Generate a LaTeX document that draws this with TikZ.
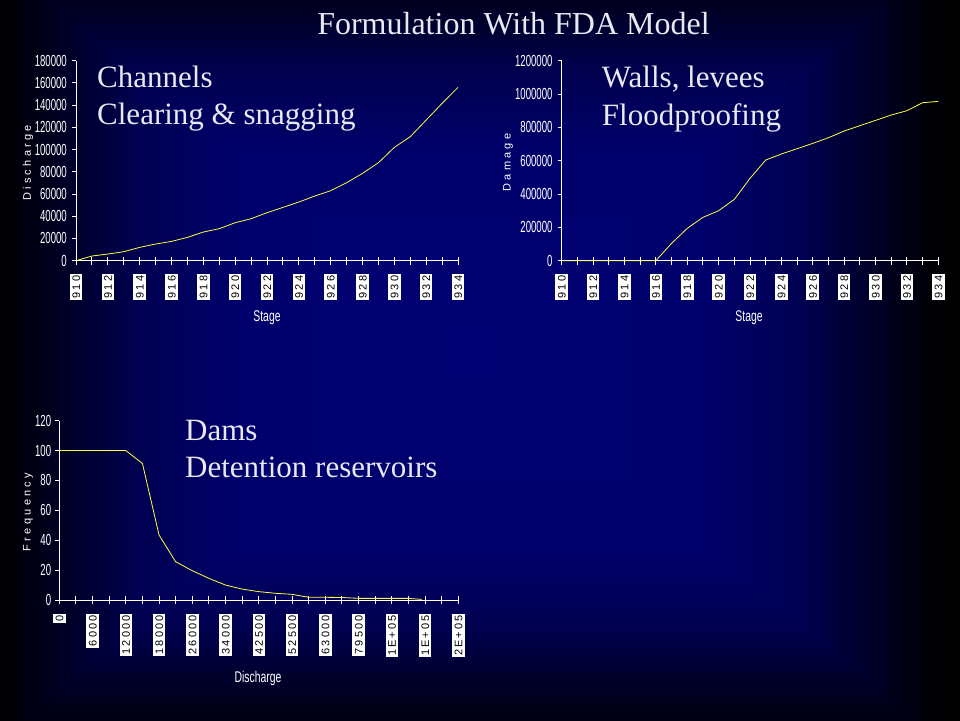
\documentclass[tikz,border=0pt]{standalone}
\usepackage{fontspec}
\setmainfont{Liberation Serif}
\newfontfamily\axfont{Liberation Sans}
\newfontfamily\spacedfont[LetterSpace=30]{Liberation Sans}
\newfontfamily\tickfont[LetterSpace=20]{Liberation Sans}
\definecolor{txtcol}{RGB}{232,232,240}
\definecolor{curvecol}{RGB}{255,255,60}
\newcommand{\mycond}[1]{\scalebox{0.6}[1]{#1}}
\newcommand{\mycondb}[1]{\scalebox{0.67}[1]{#1}}
\tikzset{
  axisline/.style={draw=white, line width=0.9pt},
  datacurve/.style={draw=curvecol, line width=0.8pt, line join=round},
  ylab/.style={font=\axfont\fontsize{16}{16}\selectfont, text=white, inner sep=0pt, anchor=east},
  xlab/.style={fill=white, text=black, rotate=90, anchor=east, font=\tickfont\fontsize{11}{11}\selectfont,
               inner xsep=1.5pt, inner ysep=2.3pt, text height=8pt, text depth=0pt},
  axtitle/.style={font=\axfont\fontsize{15.5}{15.5}\selectfont, text=white, inner sep=0pt},
  ytitle/.style={font=\spacedfont\fontsize{11}{11}\selectfont, text=white, inner sep=0pt, rotate=90},
  bigtext/.style={font=\fontsize{31}{31}\selectfont, text=txtcol, inner sep=0pt, anchor=base west},
}
\begin{document}
\begin{tikzpicture}[x=1pt,y=-1pt]
\useasboundingbox (0,0) rectangle (960,720);
\begin{scope}
  \clip (0,0) rectangle (960,720);
  \fill[black] (0,0) rectangle (960,720);
  \foreach \k in {0,...,100}{
    \pgfmathsetmacro\tval{1.05-\k*0.0105}
    \pgfmathsetmacro\bval{\tval<0.5 ? 0.45-0.06*\tval : (\tval<0.7 ? 0.42-0.55*(\tval-0.5) : (\tval<0.85 ? 0.31-1.0667*(\tval-0.7) : (\tval<0.95 ? 0.15-1.1*(\tval-0.85) : max(0,0.04-0.8*(\tval-0.95)))))}
    \definecolor{bgc}{rgb}{0,0,\bval}
    \fill[bgc] ({470-\tval*480},{350-\tval*400}) rectangle ({470+\tval*480},{350+\tval*400});
  }
\end{scope}

% title
\node[font=\fontsize{32}{32}\selectfont, text=txtcol, inner sep=0pt, anchor=base] (title) at (513.5,34) {Formulation With FDA Model};

% ---------------- chart 1 ----------------
\begin{scope}[shift={(76,260.7)}]
  \coordinate (c1o) at (0,0);
  \coordinate (c1top) at (0,-200);
  \coordinate (c1end) at (382,0);
  \draw[axisline] (c1top) -- (c1o) -- (c1end);
  \foreach \i in {0,...,24} \draw[axisline] (\i*15.917,-4) -- (\i*15.917,4);
  \foreach \j/\t in {0/0,1/20000,2/40000,3/60000,4/80000,5/100000,6/120000,7/140000,8/160000,9/180000}{
    \draw[axisline] (-4,-\j*22.222) -- (0,-\j*22.222);
    \node[ylab] (c1y\j) at (-9,-\j*22.222) {\mycond{\t}};
  }
  \foreach \i/\t in {0/910,2/912,4/914,6/916,8/918,10/920,12/922,14/924,16/926,18/928,20/930,22/932,24/934}
    \node[xlab] (c1x\i) at (\i*15.917,13.3) {\t};
  \begin{scope}[x=15.917pt,y=1.1111pt]
    \draw[datacurve] plot coordinates {(0,0) (1,4.2) (2,6) (3,8.1) (4,12) (5,15) (6,17.4) (7,21) (8,25.8) (9,28.8) (10,34.2) (11,37.8) (12,43.2) (13,48) (14,52.8) (15,58.2) (16,63) (17,70.2) (18,78.6) (19,88.2) (20,102) (21,111.6) (22,126.6) (23,141.6) (24,156)};
  \end{scope}
\end{scope}
\node[axtitle] (c1xt) at (267,318) {\mycondb{Stage}};
\node[ytitle] (c1yt) at (28,163) {Discharge};
\node[bigtext] (c1a) at (97,87.7) {Channels};
\node[bigtext] (c1b) at (97,124.3) {Clearing \& snagging};

% ---------------- chart 2 ----------------
\begin{scope}[shift={(561.7,260.7)}]
  \coordinate (c2o) at (0,0);
  \coordinate (c2top) at (0,-200);
  \coordinate (c2end) at (376.6,0);
  \draw[axisline] (c2top) -- (c2o) -- (c2end);
  \foreach \i in {0,...,24} \draw[axisline] (\i*15.692,-4) -- (\i*15.692,4);
  \foreach \j/\t in {0/0,1/200000,2/400000,3/600000,4/800000,5/1000000,6/1200000}{
    \draw[axisline] (-4,-\j*33.333) -- (0,-\j*33.333);
    \node[ylab] (c2y\j) at (-9,-\j*33.333) {\mycond{\t}};
  }
  \foreach \i/\t in {0/910,2/912,4/914,6/916,8/918,10/920,12/922,14/924,16/926,18/928,20/930,22/932,24/934}
    \node[xlab] (c2x\i) at (\i*15.692,13.3) {\t};
  \begin{scope}[x=15.692pt,y=0.16667pt]
    \draw[datacurve] plot coordinates {(0,0) (6,0) (7,104) (8,194) (9,260) (10,300) (11,368) (12,494) (13,604) (14,640) (15,672) (16,704) (17,738) (18,778) (19,810) (20,842) (21,874) (22,900) (23,948) (24,956)};
  \end{scope}
\end{scope}
\node[axtitle] (c2xt) at (749,318) {\mycondb{Stage}};
\node[ytitle] (c2yt) at (508,162.5) {Damage};
\node[bigtext] (c2a) at (601.7,87.7) {Walls, levees};
\node[bigtext] (c2b) at (601.7,125.5) {Floodproofing};

% ---------------- chart 3 ----------------
\begin{scope}[shift={(59.3,600)}]
  \coordinate (c3o) at (0,0);
  \coordinate (c3top) at (0,-179.3);
  \coordinate (c3end) at (399,0);
  \draw[axisline] (c3top) -- (c3o) -- (c3end);
  \foreach \i in {0,...,24} \draw[axisline] (\i*16.625,-4) -- (\i*16.625,4);
  \foreach \j/\t in {0/0,1/20,2/40,3/60,4/80,5/100,6/120}{
    \draw[axisline] (-4,-\j*29.883) -- (0,-\j*29.883);
    \node[ylab] (c3y\j) at (-8,-\j*29.883) {\mycond{\t}};
  }
  \foreach \i/\t in {0/0,2/6000,4/12000,6/18000,8/26000,10/34000,12/42500,14/52500,16/63000,18/79500,20/1E+05,22/1E+05,24/2E+05}
    \node[xlab] (c3x\i) at (\i*16.625,13.3) {\t};
  \begin{scope}[x=16.625pt,y=1.4942pt]
    \draw[datacurve] plot coordinates {(0,100) (4,100) (5,91.4) (6,43.5) (7,25.6) (8,19.6) (9,14.5) (10,10) (11,7.3) (12,5.6) (13,4.5) (14,3.8) (15,1.8) (16,1.8) (17,1.7) (18,1.1) (19,1.1) (20,1.1) (21,1.1) (21.8,0.4)};
  \end{scope}
\end{scope}
\node[axtitle] (c3xt) at (258,678) {\mycondb{Discharge}};
\node[ytitle] (c3yt) at (28,512) {Frequency};
\node[bigtext] (c3a) at (185,440) {Dams};
\node[bigtext] (c3b) at (185,477.7) {Detention reservoirs};
\end{tikzpicture}
\end{document}
